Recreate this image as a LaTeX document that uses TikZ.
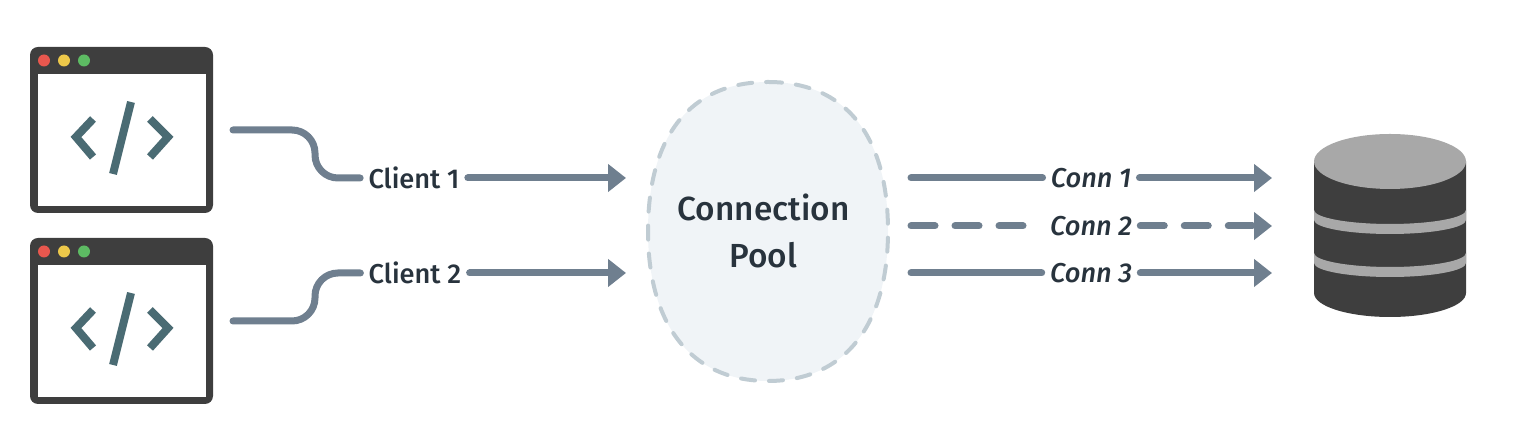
\documentclass[tikz,border=0pt]{standalone}
\usepackage{fontspec}
\setmainfont{Fira Sans Medium}
\usepackage{tikz}
\usetikzlibrary{arrows.meta}
\usepackage{xcolor}
\definecolor{flowgray}{HTML}{6F7F8F}
\definecolor{windark}{HTML}{3E3E3E}
\definecolor{codeteal}{HTML}{4A6B73}
\definecolor{inkdark}{HTML}{28333D}
\definecolor{poolfill}{HTML}{F0F4F7}
\definecolor{pooledge}{HTML}{C0CCD3}
\definecolor{dblight}{HTML}{A8A8A8}
\definecolor{dotred}{HTML}{E8574E}
\definecolor{dotyellow}{HTML}{EDC84A}
\definecolor{dotgreen}{HTML}{5DBB63}
\begin{document}
\begin{tikzpicture}[>={Triangle[length=.36cm,width=.54cm]},line cap=round,
  flowline/.style={draw=flowgray,line width=.14cm},
  flowdash/.style={flowline,dash pattern=on .48cm off .40cm},
  clientlabel/.style={text=inkdark,inner sep=.16cm,font=\fontsize{15.5}{16}\selectfont},
  connlabel/.style={text=inkdark,inner sep=.16cm,font=\fontsize{15.5}{16}\selectfont\itshape},
  codemark/.style={draw=codeteal,line width=.16cm,line cap=butt}]
\useasboundingbox (0,0) rectangle (30.34,8.96);
\foreach \wy in {0,-3.82} {
\begin{scope}[yshift=\wy cm]
\fill[windark,rounded corners=.16cm] (0.6,4.7) rectangle (4.26,8.02);
\fill[white] (0.76,4.84) rectangle (4.12,7.48);
\fill[dotred] (0.88,7.75) circle (.12);
\fill[dotyellow] (1.28,7.75) circle (.12);
\fill[dotgreen] (1.68,7.75) circle (.12);
\draw[codemark] (1.86,6.58) -- (1.52,6.22) -- (1.86,5.82);
\draw[codemark] (3.0,6.58) -- (3.36,6.22) -- (3.0,5.82);
\draw[codemark] (2.62,6.92) -- (2.26,5.48);
\end{scope}
}
\fill[poolfill] (15.36,7.32) .. controls (16.9,7.32) and (17.76,6.26) .. (17.76,4.34) .. controls (17.76,2.46) and (16.9,1.34) .. (15.36,1.34) .. controls (13.82,1.34) and (12.96,2.46) .. (12.96,4.34) .. controls (12.96,6.26) and (13.82,7.32) .. cycle;
\draw[pooledge,line width=.08cm,dash pattern=on .28cm off .28cm] (15.36,7.32) .. controls (16.9,7.32) and (17.76,6.26) .. (17.76,4.34) .. controls (17.76,2.46) and (16.9,1.34) .. (15.36,1.34) .. controls (13.82,1.34) and (12.96,2.46) .. (12.96,4.34) .. controls (12.96,6.26) and (13.82,7.32) .. cycle;
\node[text=inkdark,align=center,font=\fontsize{19}{27}\selectfont] (pool) at (15.27,4.34) {Connection\\Pool};
\node[clientlabel] (client1) at (8.28,5.4) {Client 1};
\node[clientlabel] (client2) at (8.3,3.5) {Client 2};
\node[connlabel] (conn1) at (21.82,5.4) {Conn 1};
\node[connlabel] (conn2) at (21.82,4.44) {Conn 2};
\node[connlabel] (conn3) at (21.82,3.5) {Conn 3};
\coordinate (win1) at (4.66,6.36);
\coordinate (win2) at (4.66,2.54);
\coordinate (poolin1) at (12.52,5.4);
\coordinate (poolin2) at (12.52,3.5);
\coordinate (poolout1) at (18.22,5.4);
\coordinate (poolout2) at (18.22,4.44);
\coordinate (poolout3) at (18.22,3.5);
\coordinate (db1) at (25.44,5.4);
\coordinate (db2) at (25.44,4.44);
\coordinate (db3) at (25.44,3.5);
\draw[flowline,rounded corners=.46cm] (win1) -| (6.3,5.4) -- (client1.west);
\draw[flowline,rounded corners=.46cm] (win2) -| (6.3,3.5) -- (client2.west);
\draw[flowline,->] (client1.east) -- (poolin1);
\draw[flowline,->] (client2.east) -- (poolin2);
\draw[flowline] (poolout1) -- (conn1.west);
\draw[flowline,->] (conn1.east) -- (db1);
\draw[flowdash,shorten >=.3cm] (poolout2) -- (conn2.west);
\draw[flowdash,->] (conn2.east) -- (db2);
\draw[flowline] (poolout3) -- (conn3.west);
\draw[flowline,->] (conn3.east) -- (db3);
\fill[windark] (26.28,5.73) -- (26.28,3.1) arc[start angle=180,end angle=360,x radius=1.52,y radius=.48] -- (29.32,5.73) -- cycle;
\fill[dblight] (27.8,5.73) ellipse (1.52 and .55);
\foreach \by in {4.76,3.9} {
\fill[dblight] (26.28,\by) arc[start angle=180,end angle=360,x radius=1.52,y radius=.28] -- ++(0,-.2) arc[start angle=360,end angle=180,x radius=1.52,y radius=.28] -- cycle;
}
\end{tikzpicture}
\end{document}
